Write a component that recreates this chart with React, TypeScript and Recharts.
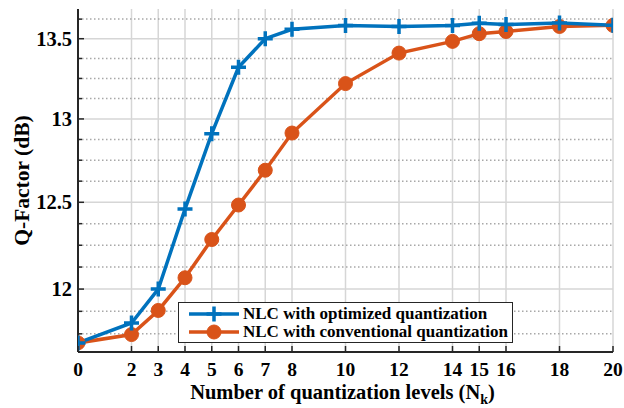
import { LineChart, Line, XAxis, YAxis, ReferenceLine, Legend } from "recharts"

// quantization levels (x) and Q-factor readings (dB)
const levels = [0, 2, 3, 4, 5, 6, 7, 8, 10, 12, 14, 15, 16, 18, 20]
const optimizedQ = [11.7, 11.81, 12.0, 12.46, 12.91, 13.32, 13.5, 13.56, 13.584, 13.578, 13.584, 13.599, 13.59, 13.6, 13.585]
const conventionalQ = [11.7, 11.746, 11.88, 12.064, 12.283, 12.484, 12.69, 12.914, 13.218, 13.409, 13.483, 13.532, 13.546, 13.578, 13.585]

const xTicks = [0, 2, 3, 4, 5, 6, 7, 8, 10, 12, 14, 15, 16, 18, 20]
const yMajor = [12, 12.5, 13, 13.5]
const yMinor = [11.75, 11.875, 12.125, 12.25, 12.375, 12.625, 12.75, 12.875, 13.125, 13.25, 13.375, 13.625]

const seriesNames = ["NLC with optimized quantization", "NLC with conventional quantization"]

const BLUE = "#0072BD"
const ORANGE = "#D95319"
const FRAME = "#262626"
const FONT = "'Liberation Serif', 'Times New Roman', serif"

const data = levels.map((n, i) => ({ n, opt: optimizedQ[i], conv: conventionalQ[i] }))
const yAll = [...yMajor, ...yMinor].sort((a, b) => a - b)

const PlusDot = (props: any) => {
  const { cx, cy } = props
  if (cx == null || cy == null) return null
  const s = 7.5
  return (
    <path
      d={`M${cx - s},${cy}L${cx + s},${cy}M${cx},${cy - s}L${cx},${cy + s}`}
      stroke={BLUE}
      strokeWidth={3.5}
      fill="none"
    />
  )
}

const CircleDot = (props: any) => {
  const { cx, cy } = props
  if (cx == null || cy == null) return null
  return <circle cx={cx} cy={cy} r={7} fill={ORANGE} stroke={ORANGE} strokeWidth={1} />
}

const BottomTick = ({ x, y, payload }: any) => (
  <g>
    <line x1={x} y1={y} x2={x} y2={y - 6} stroke={FRAME} strokeWidth={1.5} />
    <text x={x} y={y + 24} textAnchor="middle" fontFamily={FONT} fontWeight="bold" fontSize={19.5} fill="#000">
      {payload.value}
    </text>
  </g>
)

const TopTick = ({ x, y }: any) => (
  <line x1={x} y1={y} x2={x} y2={y + 6} stroke={FRAME} strokeWidth={1.5} />
)

const LeftTick = ({ x, y, payload }: any) => {
  const major = yMajor.includes(payload.value)
  return (
    <g>
      <line x1={x} y1={y} x2={x + (major ? 6 : 4)} y2={y} stroke={FRAME} strokeWidth={1.5} />
      {major && (
        <text x={x - 6} y={y + 7} textAnchor="end" fontFamily={FONT} fontWeight="bold" fontSize={20.5} fill="#000">
          {payload.value}
        </text>
      )}
    </g>
  )
}

const RightTick = ({ x, y, payload }: any) => {
  const major = yMajor.includes(payload.value)
  return <line x1={x} y1={y} x2={x - (major ? 6 : 4)} y2={y} stroke={FRAME} strokeWidth={1.5} />
}

const XLabel = ({ viewBox }: any) => {
  const cx = viewBox.x + viewBox.width / 2
  return (
    <text x={cx - 3} y={viewBox.y + 47} textAnchor="middle" fontFamily={FONT} fontWeight="bold" fontSize={20.5} fill="#000">
      Number of quantization levels (N
      <tspan fontSize={14} dy={5}>k</tspan>
      <tspan dy={-5}>)</tspan>
    </text>
  )
}

const YLabel = ({ viewBox }: any) => {
  const cy = viewBox.y + viewBox.height / 2
  const cx = 22
  return (
    <text
      x={cx}
      y={cy}
      transform={`rotate(-90 ${cx} ${cy})`}
      textAnchor="middle"
      dominantBaseline="central"
      fontFamily={FONT}
      fontWeight="bold"
      fontSize={21.5}
      fill="#000"
    >
      Q-Factor (dB)
    </text>
  )
}

const LegendBox = () => (
  <div
    style={{
      border: `1.5px solid ${FRAME}`,
      background: "#fff",
      padding: "2px 4px 1px 8px",
      fontFamily: FONT,
      fontWeight: "bold",
      fontSize: 17,
      lineHeight: "18px",
      color: "#000",
    }}
  >
    {seriesNames.map((name, i) => (
      <div key={name} style={{ display: "flex", alignItems: "center", whiteSpace: "nowrap", height: 18 }}>
        <svg width={54} height={18} style={{ marginRight: 2, flex: "none" }}>
          <line x1={2} y1={9} x2={52} y2={9} stroke={i === 0 ? BLUE : ORANGE} strokeWidth={3.5} />
          {i === 0 ? <PlusDot cx={27} cy={9} /> : <CircleDot cx={27} cy={9} />}
        </svg>
        <span>{name}</span>
      </div>
    ))}
  </div>
)

export default function App() {
  return (
    <div style={{ position: "absolute", left: 0, top: 0, width: 624, height: 408, background: "#fff" }}>
      <LineChart width={624} height={408} data={data} margin={{ top: 9, right: 11, bottom: 26, left: 18 }}>
        <XAxis
          xAxisId="b"
          dataKey="n"
          type="number"
          domain={[0, 20]}
          allowDataOverflow
          ticks={xTicks}
          interval={0}
          height={30}
          tickLine={false}
          tickSize={0}
          tickMargin={0}
          axisLine={{ stroke: FRAME, strokeWidth: 2 }}
          tick={<BottomTick />}
          label={<XLabel />}
        />
        <XAxis
          xAxisId="t"
          orientation="top"
          dataKey="n"
          type="number"
          domain={[0, 20]}
          allowDataOverflow
          ticks={xTicks}
          interval={0}
          height={0}
          tickLine={false}
          tickSize={0}
          tickMargin={0}
          axisLine={{ stroke: FRAME, strokeWidth: 2 }}
          tick={<TopTick />}
        />
        <YAxis
          yAxisId="l"
          type="number"
          scale="log"
          domain={[11.65, 13.69]}
          allowDataOverflow
          ticks={yAll}
          interval={0}
          width={60}
          tickLine={false}
          tickSize={0}
          tickMargin={0}
          axisLine={{ stroke: FRAME, strokeWidth: 2 }}
          tick={<LeftTick />}
          label={<YLabel />}
        />
        <YAxis
          yAxisId="r"
          orientation="right"
          type="number"
          scale="log"
          domain={[11.65, 13.69]}
          allowDataOverflow
          ticks={yAll}
          interval={0}
          width={0}
          tickLine={false}
          tickSize={0}
          tickMargin={0}
          axisLine={{ stroke: FRAME, strokeWidth: 2 }}
          tick={<RightTick />}
        />

        {xTicks.map((v) => (
          <ReferenceLine key={`vx${v}`} xAxisId="b" yAxisId="l" x={v} stroke="#d6d6d6" strokeWidth={1.5} />
        ))}
        {yMinor.map((v) => (
          <ReferenceLine key={`mn${v}`} xAxisId="b" yAxisId="l" y={v} stroke="#a8a8a8" strokeWidth={1.5} strokeDasharray="1.5 2.5" />
        ))}
        {yMajor.map((v) => (
          <ReferenceLine key={`mj${v}`} xAxisId="b" yAxisId="l" y={v} stroke="#d6d6d6" strokeWidth={1.5} />
        ))}

        <Line
          xAxisId="b"
          yAxisId="l"
          dataKey="conv"
          name={seriesNames[1]}
          stroke={ORANGE}
          strokeWidth={3.5}
          dot={<CircleDot />}
          activeDot={false}
          isAnimationActive={false}
        />
        <Line
          xAxisId="b"
          yAxisId="l"
          dataKey="opt"
          name={seriesNames[0]}
          stroke={BLUE}
          strokeWidth={3.5}
          dot={<PlusDot />}
          activeDot={false}
          isAnimationActive={false}
        />

        <Legend
          layout="horizontal"
          verticalAlign="middle"
          align="center"
          content={<LegendBox />}
          wrapperStyle={{ left: 178, top: 302, width: "auto", height: "auto" }}
        />
      </LineChart>
    </div>
  )
}
